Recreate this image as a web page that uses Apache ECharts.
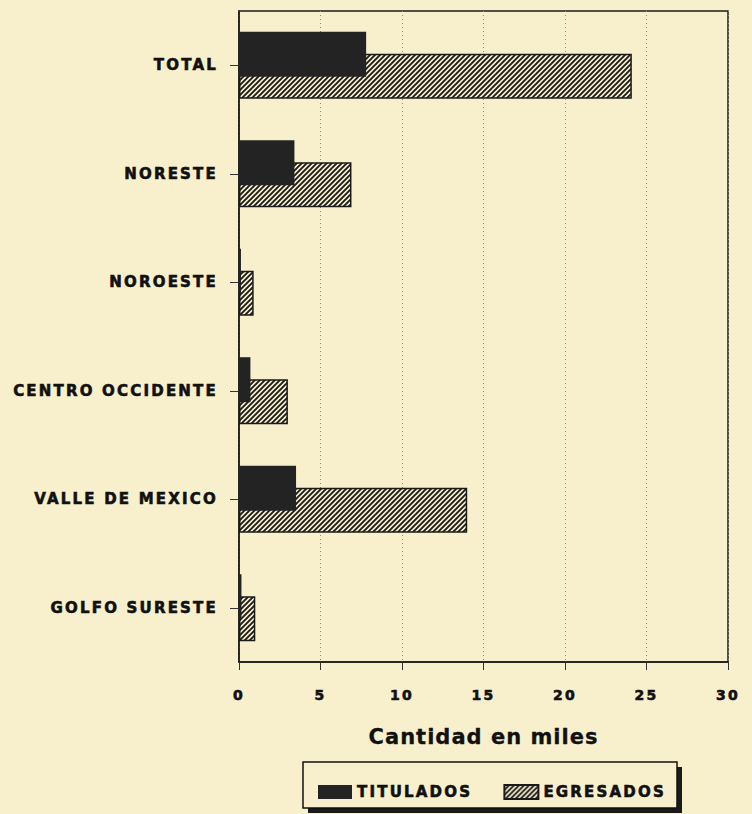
<!DOCTYPE html>
<html>
<head>
<meta charset="utf-8">
<script src="https://cdn.jsdelivr.net/npm/echarts@6/dist/echarts.min.js"></script>
<style>
  html, body { margin: 0; padding: 0; background: #f8f0cc; }
  #chart { width: 752px; height: 814px; }
  #chart svg text { letter-spacing: 2.2px; stroke: #111; stroke-width: 0.6px; }
  #chart svg text[style*="21px"] { letter-spacing: 1px; stroke-width: 0.3px; }
</style>
</head>
<body>
<div id="chart"></div>
<script>
// ---- data ----
const categories = ['TOTAL', 'NORESTE', 'NOROESTE', 'CENTRO OCCIDENTE', 'VALLE DE MEXICO', 'GOLFO SURESTE'];
const titulados = [7.8, 3.4, 0.12, 0.7, 3.5, 0.15];
const egresados = [24.1, 6.9, 0.9, 3.0, 14.0, 1.0];
const seriesNames = ['TITULADOS', 'EGRESADOS'];
const axisMin = 0, axisMax = 30, axisStep = 5;
const axisTitle = 'Cantidad en miles';

// ---- hatch pattern ----
const BG = '#f8f0cc';
function hatch() {
  const s = 5;
  const c = document.createElement('canvas');
  c.width = s; c.height = s;
  const g = c.getContext('2d');
  g.fillStyle = BG; g.fillRect(0, 0, s, s);
  g.strokeStyle = '#1c1c1c'; g.lineWidth = 1.9;
  g.beginPath();
  g.moveTo(-1, s + 1); g.lineTo(s + 1, -1);
  g.moveTo(-1, 1); g.lineTo(1, -1);
  g.moveTo(s - 1, s + 1); g.lineTo(s + 1, s - 1);
  g.stroke();
  return { image: c.toDataURL(), imageWidth: s, imageHeight: s, repeat: 'repeat' };
}

const FONT = '"DejaVu Sans", sans-serif';
const chart = echarts.init(document.getElementById('chart'), null, { renderer: 'svg', width: 752, height: 814 });
chart.setOption({
  backgroundColor: BG,
  animation: false,
  grid: {
    left: 239, right: 24, top: 11, bottom: 152,
    show: true, borderColor: '#1a1a1a', borderWidth: 1.5, backgroundColor: 'transparent'
  },
  xAxis: {
    type: 'value', min: axisMin, max: axisMax, interval: axisStep,
    name: axisTitle, nameLocation: 'middle', nameGap: 64,
    nameTextStyle: { fontFamily: FONT, fontWeight: 'bold', fontSize: 21, color: '#111' },
    axisLine: { show: true, lineStyle: { color: '#1a1a1a', width: 1.5 } },
    axisTick: { show: true, length: 8, lineStyle: { color: '#333', width: 1 } },
    axisLabel: { fontFamily: FONT, fontWeight: 'bold', fontSize: 14, color: '#111', margin: 26 },
    splitLine: { show: true, lineStyle: { color: '#8c8a80', width: 1, type: [1, 3] } }
  },
  yAxis: {
    type: 'category', data: categories, inverse: true,
    axisLine: { show: true, lineStyle: { color: '#1a1a1a', width: 1.5 } },
    axisTick: { show: true, alignWithLabel: true, length: 9, lineStyle: { color: '#333', width: 1 } },
    axisLabel: { fontFamily: FONT, fontWeight: 'bold', fontSize: 15, color: '#111', margin: 21 },
    splitLine: { show: false }
  },
  legend: {
    data: seriesNames,
    left: 313, top: 779,
    itemWidth: 34, itemHeight: 14, itemGap: 51,
    icon: 'rect',
    textStyle: { fontFamily: FONT, fontWeight: 'bold', fontSize: 15, color: '#111' }
  },
  graphic: [
    { type: 'rect', z: -1, shape: { x: 308, y: 767, width: 374, height: 46 }, style: { fill: '#1a1a1a' } },
    { type: 'rect', z: -1, shape: { x: 303, y: 762, width: 374, height: 46 }, style: { fill: BG, stroke: '#111', lineWidth: 1.5 } }
  ],
  series: [
    {
      name: seriesNames[0], type: 'bar', data: titulados, z: 3,
      barWidth: 45, barGap: '-51%',
      itemStyle: { color: '#232323', borderColor: '#222', borderWidth: 0 }
    },
    {
      name: seriesNames[1], type: 'bar', data: egresados, z: 2,
      barWidth: 45, barGap: '-51%',
      itemStyle: { color: hatch(), borderColor: '#1a1a1a', borderWidth: 1.5 }
    }
  ]
});
</script>
</body>
</html>
